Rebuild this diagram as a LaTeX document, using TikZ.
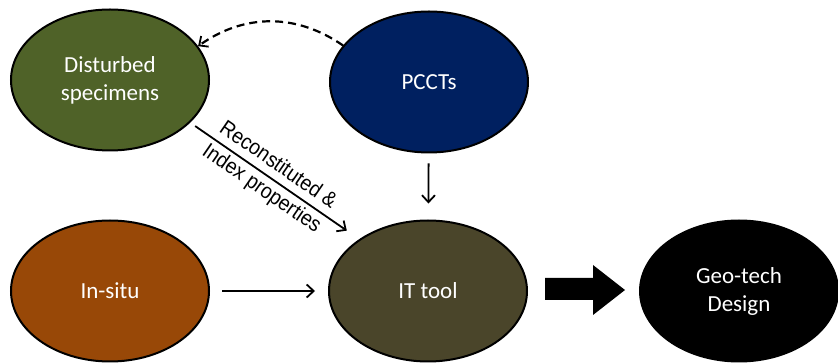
\documentclass[tikz,border=0pt]{standalone}
\usepackage{fontspec}
\setmainfont{Carlito}
\newfontfamily\labelfont{Liberation Sans}
\usetikzlibrary{shapes.geometric,arrows.meta}
\definecolor{cDist}{HTML}{4F6228}
\definecolor{cPcct}{HTML}{002060}
\definecolor{cInsitu}{HTML}{984807}
\definecolor{cIT}{HTML}{4A452A}
\tikzset{
  blob/.style={ellipse, draw=black, line width=2pt, minimum width=198pt, minimum height=141pt,
    inner sep=0pt, text=white, align=center, font=\fontsize{23}{28}\selectfont},
  conn/.style={line width=1.8pt, -{Straight Barb[length=7pt,width=13pt,line width=1.8pt]}},
}
\begin{document}
\begin{tikzpicture}[x=1pt,y=1pt]
\useasboundingbox (0,0) rectangle (838,364);
\node[blob, fill=cDist]   (ds) at (110,284) {Disturbed\\specimens};
\node[blob, fill=cPcct]   (pc) at (429,282) {PCCTs};
\node[blob, fill=cInsitu] (is) at (110,73)  {In-situ};
\node[blob, fill=cIT]     (it) at (428,73)  {IT tool};
\node[blob, fill=black]   (gd) at (739,73)  {Geo-tech\\Design};
% dashed curved arrow
\draw[conn, line width=2.2pt, dash pattern=on 8pt off 5pt] (pc.157) to[bend right=35] (ds.21);
% vertical arrow
\draw[conn, shorten <=10pt, shorten >=16pt] (pc) -- (it);
% horizontal arrow
\draw[conn, shorten <=12pt, shorten >=13pt] (is) -- (it);
% diagonal arrow with label
\draw[conn, shorten <=6pt, shorten >=15pt] (ds.-28) -- node[sloped, align=center, inner sep=0pt,
   font=\labelfont\fontsize{21.5}{29}\selectfont, pos=0.47]
   {\scalebox{0.9}[1]{Reconstituted \&}\\\scalebox{0.9}[1]{Index properties}} (it.143);
% block arrow
\fill[black] (545,64) -- (593,64) -- (593,49) -- (625,74) -- (593,99) -- (593,86) -- (545,86) -- cycle;
\end{tikzpicture}
\end{document}
